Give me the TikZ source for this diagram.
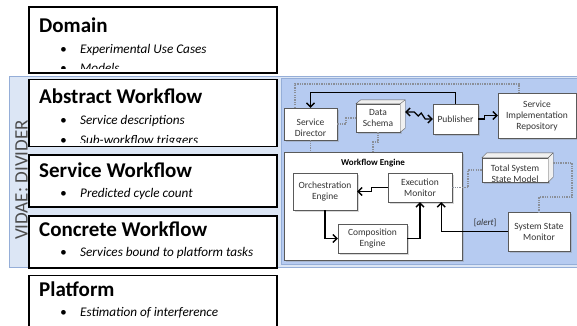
\documentclass[tikz,border=0pt]{standalone}
\usepackage{fontspec}
\setmainfont{Carlito}
\usetikzlibrary{arrows.meta,positioning,calc,shadows}
\definecolor{panelblue}{HTML}{DCE6F5}
\definecolor{deepblue}{HTML}{B6CBF1}
\definecolor{panelrim}{HTML}{95AED8}
\definecolor{dotgray}{HTML}{8A8F99}
\definecolor{rimgray}{HTML}{5A5A5A}
\newcommand{\bul}{\makebox[20pt][l]{\textbullet}}

\begin{document}
\begin{tikzpicture}[x=1pt,y=-1pt,
    node distance=6pt,
    layerbox/.style={draw,line width=1.6pt,fill=white,minimum width=248pt,inner sep=0pt},
    layertitle/.style={anchor=base west,inner sep=0pt,font=\bfseries\fontsize{21}{24}\selectfont},
    layeritem/.style={anchor=base west,inner sep=0pt,font=\itshape\fontsize{13.2}{15}\selectfont},
    compbox/.style={draw=rimgray,fill=white,inner sep=1pt,align=center,text=black!80,
      font=\fontsize{9.5}{11}\selectfont,
      drop shadow={opacity=0.3,shadow xshift=1.5pt,shadow yshift=-1.5pt}},
    comptext/.style={align=center,inner sep=0pt,text=black!80,font=\fontsize{9.5}{11}\selectfont},
    cubeface/.style={draw=rimgray,fill=gray!12,line join=round},
    arrow/.style={-{Straight Barb[length=4pt,width=8pt]},line width=1.3pt},
    assoc/.style={draw=dotgray,line width=1.6pt,dash pattern=on 1.3pt off 1.1pt}
  ]
    \useasboundingbox (0,0) rectangle (577,325);

    % panels
    \fill[panelblue,draw=panelrim] (9,76) rectangle (577,267);
    \fill[deepblue,draw=panelrim] (281,78) rectangle (577,264);
    \node[rotate=90,text=black!70,font=\fontsize{19}{21}\selectfont] (divider) at (21.5,180) {VIDAE: DIVIDER};

    % layers
    \node[layerbox,minimum height=66pt] (domain) at (153,40) {};
    \node[layerbox,minimum height=67pt,below=5pt of domain] (abstract) {};
    \node[layerbox,minimum height=52pt,below=7pt of abstract] (service) {};
    \node[layerbox,minimum height=52pt,below=7pt of service] (concrete) {};
    \node[layerbox,minimum height=52pt,below=of concrete] (platform) {};

    \begin{scope}
      \clip ([shift={(1,-5)}]domain.south west) rectangle ([shift={(-1,1)}]domain.north east);
      \node[layertitle] (domaint) at (39,32) {Domain};
      \node[layeritem] (domaini) at (60,53) {\bul Experimental Use Cases};
      \node[layeritem] (domainii) at (60,72) {\bul Models};
    \end{scope}
    \begin{scope}
      \clip ([shift={(1,-5)}]abstract.south west) rectangle ([shift={(-1,1)}]abstract.north east);
      \node[layertitle] (abstractt) at (39,103) {Abstract Workflow};
      \node[layeritem] (abstracti) at (60,124) {\bul Service descriptions};
      \node[layeritem] (abstractii) at (60,144) {\bul Sub-workflow triggers};
    \end{scope}
    \node[layertitle] (servicet) at (39,177) {Service Workflow};
    \node[layeritem] (servicei) at (60,197) {\bul Predicted cycle count};
    \node[layertitle] (concretet) at (39,236) {Concrete Workflow};
    \node[layeritem] (concretei) at (60,256) {\bul Services bound to platform tasks};
    \node[layertitle] (platformt) at (39,296) {Platform};
    \node[layeritem] (platformi) at (60,316) {\bul Estimation of interference};

    % components
    \node[compbox,minimum width=53pt,minimum height=32pt] (sd) at (310.5,124) {};
    \begin{scope}
      \clip (sd.north west) rectangle ([yshift=4pt]sd.south east);
      \node[comptext,anchor=base] (sdt) at (310.5,136) {Service\\Director};
    \end{scope}
    \node[compbox,minimum width=44pt,minimum height=28pt] (ds) at (378,118) {Data\\Schema};
    \draw[cubeface] (ds.north west) -- ++(5,-4) -- ([shift={(5,-4)}]ds.north east)
      -- ([shift={(5,-4)}]ds.south east) -- (ds.south east) -- (ds.north east) -- cycle;
    \draw[draw=rimgray] (ds.north east) -- ++(5,-4);
    \node[compbox,minimum width=45pt,minimum height=30pt] (pub) at (455.5,119) {Publisher};
    \node[compbox,minimum width=78pt,minimum height=45pt] (sir) at (537,115.5) {Service\\Implementation\\Repository};

    \node[compbox,minimum width=178pt,minimum height=108pt] (we) at (373,206) {};
    \node[anchor=base,inner sep=0pt,font=\bfseries\fontsize{9}{10}\selectfont] (wet) at (373,165) {Workflow Engine};
    \node[compbox,minimum width=64pt,minimum height=37pt] (oe) at (325,191.5) {Orchestration\\Engine};
    \node[compbox,minimum width=64pt,minimum height=29pt] (em) at (420,187.5) {Execution\\Monitor};
    \node[compbox,minimum width=69pt,minimum height=29pt] (ce) at (372.5,238.5) {Composition\\Engine};

    \node[compbox,minimum width=66pt,minimum height=24pt] (tssm) at (515,170) {};
    \draw[cubeface] (tssm.north west) -- ++(5,-5) -- ([shift={(5,-5)}]tssm.north east)
      -- ([shift={(5,-5)}]tssm.south east) -- (tssm.south east) -- (tssm.north east) -- cycle;
    \draw[draw=rimgray] (tssm.north east) -- ++(5,-5);
    \begin{scope}
      \clip (tssm.north west) rectangle ([yshift=1pt]tssm.south east);
      \node[comptext,anchor=base] (tssmt) at (515,182.5) {Total System\\State Model};
    \end{scope}
    \node[compbox,minimum width=62pt,minimum height=39pt] (ssm) at (539,231.5) {System State\\Monitor};

    % dotted links
    \draw[assoc] ([xshift=11pt]sd.north west) -- ++(0,-24) -| ([xshift=-18pt]sir.north);
    \draw[assoc] (sd.east) -- ++(9,0) |- (ds.west);
    \draw[assoc] (sd.south) -- (sd.south |- we.north);
    \draw[assoc] (ds.south) -- ++(0,10) -| (we.north);
    \draw[assoc] (em.east) -- ++(16,0) |- (tssm.west);
    \draw[assoc] ([shift={(5,-7)}]tssm.east) -- ++(19,0) -- ++(0,34) -| (ssm.north);

    % arrows
    \draw[arrow] (pub.north) -- ++(0,-11) -| (sd.north);
    \draw[arrow,{Straight Barb[length=4pt,width=8pt]}-{Straight Barb[length=4pt,width=8pt]}]
      ([shift={(5,-6)}]ds.east) -- ++(9,0) -- ++(4,4) -- ++(3,-3) -- ++(4,6) -- (pub.west |- 0,119);
    \draw[arrow] (pub.east) -- ++(6,0) |- (sir.west);
    \draw[arrow] (em.west) -- ++(-16,0) |- (oe.east);
    \draw[arrow] (oe.south) |- (ce.west);
    \draw[arrow] (ce.east) -| (em.south);
    \draw[arrow] (ssm.west) -| ([xshift=-11pt]em.south east)
      node[pos=0.17,above=1pt,font=\fontsize{9}{10}\selectfont,text=black!80] (alert) {[\textit{alert}]};
  \end{tikzpicture}
\end{document}
